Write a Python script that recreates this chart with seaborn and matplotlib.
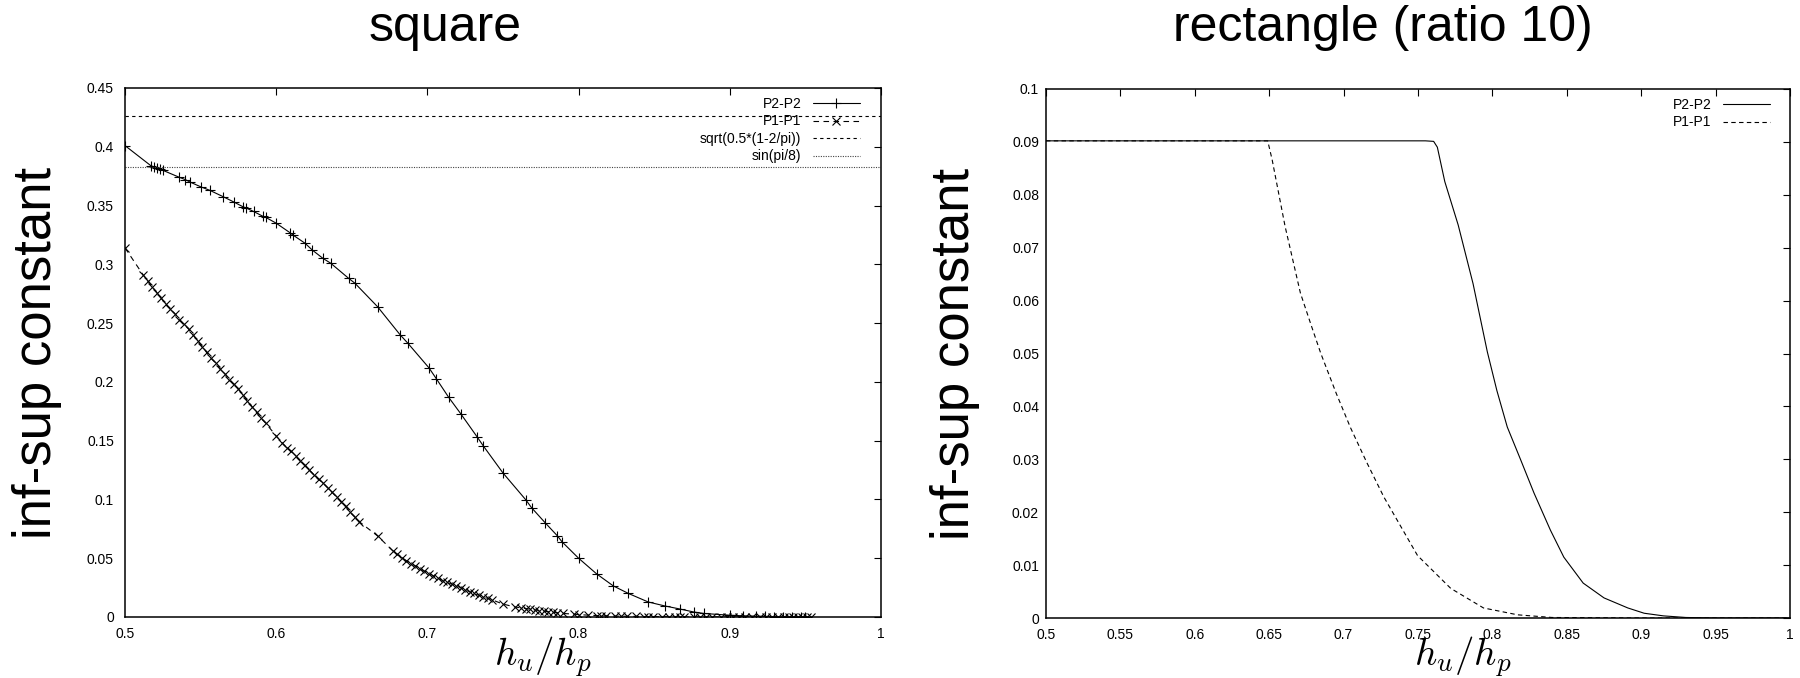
import numpy as np
import pandas as pd
import seaborn as sns
import matplotlib.pyplot as plt

# square: P2-P2 (+ markers, solid)
sq_p2_x = [0.500, 0.517, 0.519, 0.521, 0.523, 0.525, 0.536, 0.540, 0.543, 0.550,
           0.556, 0.565, 0.572, 0.578, 0.580, 0.585, 0.591, 0.593, 0.600, 0.609,
           0.611, 0.619, 0.624, 0.631, 0.636, 0.648, 0.652, 0.667, 0.682, 0.687,
           0.701, 0.706, 0.714, 0.722, 0.733, 0.737, 0.750, 0.765, 0.769, 0.778,
           0.786, 0.789, 0.800, 0.812, 0.823, 0.833, 0.846, 0.857, 0.867, 0.876,
           0.883, 0.900, 0.909, 0.917, 0.923, 0.929, 0.935, 0.941, 0.947, 0.950]
sq_p2_y = [0.401, 0.384, 0.383, 0.382, 0.381, 0.380, 0.374, 0.372, 0.370, 0.366,
           0.363, 0.3575, 0.353, 0.349, 0.348, 0.345, 0.341, 0.340, 0.335, 0.327,
           0.325, 0.318, 0.312, 0.305, 0.301, 0.288, 0.284, 0.264, 0.240, 0.233,
           0.212, 0.2025, 0.187, 0.173, 0.153, 0.1455, 0.1225, 0.0998, 0.0928, 0.080,
           0.069, 0.064, 0.050, 0.0366, 0.0264, 0.020, 0.0128, 0.0094, 0.0068, 0.0043,
           0.003, 0.0015, 0.001, 0.0007, 0.0005, 0.0003, 0.0002, 0.0001, 0.0001, 0.0001]

# square: P1-P1 (x markers, dashed)
sq_p1_x = [0.500,
           0.512, 0.515, 0.518, 0.521, 0.524, 0.527, 0.530, 0.533, 0.536, 0.539,
           0.542, 0.545, 0.548, 0.551, 0.554, 0.557, 0.560, 0.563, 0.566, 0.569,
           0.572, 0.575, 0.578, 0.581, 0.584, 0.587, 0.590, 0.593,
           0.600,
           0.604, 0.607, 0.610, 0.613, 0.616, 0.619, 0.622, 0.625, 0.628, 0.631,
           0.634, 0.637, 0.640, 0.643, 0.646, 0.649, 0.652, 0.655,
           0.667,
           0.677, 0.680, 0.683, 0.686, 0.689, 0.692, 0.695, 0.698, 0.701, 0.704,
           0.707, 0.710, 0.713, 0.716, 0.719, 0.722, 0.725, 0.728, 0.731, 0.734,
           0.737, 0.740, 0.743,
           0.750,
           0.758, 0.762, 0.765, 0.768, 0.771, 0.774, 0.777, 0.780, 0.783, 0.786,
           0.790, 0.797, 0.800,
           0.806, 0.812, 0.815, 0.818, 0.824, 0.828, 0.832, 0.838, 0.843, 0.846,
           0.849, 0.855, 0.860, 0.864, 0.867, 0.870, 0.876, 0.880, 0.884, 0.888,
           0.894, 0.898, 0.902, 0.906, 0.910, 0.915, 0.920, 0.924, 0.928, 0.932,
           0.936, 0.939, 0.942, 0.945, 0.948, 0.951, 0.954]
sq_p1_y = [0.314,
           0.291, 0.286, 0.281, 0.276, 0.271, 0.266, 0.262, 0.258, 0.253, 0.249,
           0.245, 0.240, 0.235, 0.230, 0.225, 0.220, 0.216, 0.211, 0.207, 0.202,
           0.198, 0.194, 0.189, 0.184, 0.179, 0.174, 0.169, 0.165,
           0.154,
           0.148, 0.144, 0.141, 0.137, 0.133, 0.129, 0.125, 0.121, 0.117, 0.114,
           0.110, 0.106, 0.102, 0.098, 0.094, 0.089, 0.085, 0.081,
           0.069,
           0.0565, 0.0535, 0.0505, 0.048, 0.0455, 0.0435, 0.041, 0.039, 0.037, 0.035,
           0.033, 0.031, 0.0295, 0.028, 0.0265, 0.025, 0.023, 0.0215, 0.020, 0.0185,
           0.017, 0.0158, 0.0145,
           0.011,
           0.0085, 0.0078, 0.0072, 0.0066, 0.006, 0.0055, 0.005, 0.0045, 0.004, 0.0036,
           0.003, 0.0024, 0.002,
           0.0016, 0.0012, 0.0011, 0.001, 0.0008, 0.0007, 0.0006, 0.0005, 0.0004, 0.0004,
           0.0003, 0.0003, 0.0002, 0.0002, 0.0002, 0.0001, 0.0001, 0.0001, 0.0001, 0.0001,
           0.0, 0.0, 0.0, 0.0, 0.0, 0.0, 0.0, 0.0, 0.0, 0.0,
           0.0, 0.0, 0.0, 0.0, 0.0, 0.0, 0.0]

sqrt_const = 0.4263   # sqrt(0.5*(1-2/pi))
sin_const = 0.3827    # sin(pi/8)

# rectangle (ratio 10)
re_p2_x = [0.500, 0.600, 0.700, 0.755, 0.7605, 0.763, 0.768, 0.777, 0.787, 0.7966,
           0.803, 0.810, 0.819, 0.828, 0.839, 0.848, 0.861, 0.875, 0.891, 0.902,
           0.915, 0.930, 0.950, 1.000]
re_p2_y = [0.0902, 0.0902, 0.0902, 0.0902, 0.0901, 0.0890, 0.0825, 0.0743, 0.0632, 0.0503,
           0.0430, 0.0361, 0.0299, 0.0236, 0.0166, 0.0115, 0.0066, 0.0038, 0.0019, 0.0009,
           0.0004, 0.0001, 0.0, 0.0]
re_p1_x = [0.500, 0.600, 0.649, 0.652, 0.6607, 0.671, 0.6785, 0.6847, 0.695, 0.7046,
           0.7154, 0.727, 0.7497, 0.772, 0.794, 0.817, 0.840, 0.900, 1.000]
re_p1_y = [0.0902, 0.0902, 0.0902, 0.0866, 0.0740, 0.0614, 0.0551, 0.0500, 0.0425, 0.0360,
           0.0295, 0.0229, 0.0118, 0.0056, 0.0019, 0.0006, 0.0001, 0.0, 0.0]

sq_xticks = [0.5, 0.6, 0.7, 0.8, 0.9, 1.0]
sq_xlabels = ['0.5', '0.6', '0.7', '0.8', '0.9', '1']
sq_yticks = [0, 0.05, 0.1, 0.15, 0.2, 0.25, 0.3, 0.35, 0.4, 0.45]
sq_ylabels = ['0', '0.05', '0.1', '0.15', '0.2', '0.25', '0.3', '0.35', '0.4', '0.45']
re_xticks = [0.5, 0.55, 0.6, 0.65, 0.7, 0.75, 0.8, 0.85, 0.9, 0.95, 1.0]
re_xlabels = ['0.5', '0.55', '0.6', '0.65', '0.7', '0.75', '0.8', '0.85', '0.9', '0.95', '1']
re_yticks = [0, 0.01, 0.02, 0.03, 0.04, 0.05, 0.06, 0.07, 0.08, 0.09, 0.1]
re_ylabels = ['0', '0.01', '0.02', '0.03', '0.04', '0.05', '0.06', '0.07', '0.08', '0.09', '0.1']

sns.set_style('white')
plt.rcParams['font.family'] = ['Liberation Sans', 'DejaVu Sans']
plt.rcParams['mathtext.fontset'] = 'cm'
plt.rcParams['text.color'] = 'black'
plt.rcParams['axes.labelcolor'] = 'black'

fig = plt.figure(figsize=(18, 6.78), dpi=100)
ax1 = fig.add_axes([125 / 1800, 61 / 678, 756 / 1800, 529 / 678])
ax2 = fig.add_axes([1046 / 1800, 60 / 678, 744 / 1800, 529 / 678])

lw = 0.8
sns.lineplot(x=sq_p2_x, y=sq_p2_y, ax=ax1, color='black', lw=lw, marker='+',
             markersize=7, markeredgewidth=0.8, markeredgecolor='black',
             estimator=None, label='P2-P2')
sns.lineplot(x=sq_p1_x, y=sq_p1_y, ax=ax1, color='black', lw=lw, marker='x',
             markersize=5.5, markeredgewidth=0.8, markeredgecolor='black',
             estimator=None, label='P1-P1', linestyle=(0, (5, 4)))
ax1.axhline(sqrt_const, color='black', lw=lw, linestyle=(0, (3, 3)),
            label='sqrt(0.5*(1-2/pi))')
ax1.axhline(sin_const, color='#444444', lw=lw, linestyle=(0, (1, 1.2)),
            label='sin(pi/8)')

sns.lineplot(x=re_p2_x, y=re_p2_y, ax=ax2, color='black', lw=lw,
             estimator=None, label='P2-P2')
sns.lineplot(x=re_p1_x, y=re_p1_y, ax=ax2, color='black', lw=lw,
             estimator=None, label='P1-P1', linestyle=(0, (4, 3)))

for ax, xt, xl, yt, yl, ylim, ypad in [
        (ax1, sq_xticks, sq_xlabels, sq_yticks, sq_ylabels, 0.45, 8),
        (ax2, re_xticks, re_xlabels, re_yticks, re_ylabels, 0.1, 5)]:
    ax.set_xlim(0.5, 1.0)
    ax.set_ylim(0, ylim)
    ax.set_xticks(xt)
    ax.set_xticklabels(xl)
    ax.set_yticks(yt)
    ax.set_yticklabels(yl)
    ax.tick_params(direction='in', length=5, width=0.8, top=True, right=True,
                   labelsize=10, colors='black')
    ax.tick_params(axis='x', pad=7)
    ax.tick_params(axis='y', pad=ypad)
    for s in ax.spines.values():
        s.set_linewidth(1.1)
        s.set_color('black')
    ax.set_ylabel('inf-sup constant', fontsize=38)
    ax.set_xlabel(r'$h_u/h_p$', fontsize=28)

ax1.yaxis.set_label_coords(-0.083, 0.5)
ax2.yaxis.set_label_coords(-0.089, 0.5)
ax1.xaxis.set_label_coords(0.553, -0.032)
ax2.xaxis.set_label_coords(0.5605, -0.030)

leg1 = ax1.legend(loc='upper right', bbox_to_anchor=(0.972, 0.983), frameon=False,
                  markerfirst=False, fontsize=10, handlelength=3.4,
                  handletextpad=0.8, labelspacing=0.25, borderpad=0, borderaxespad=0)
leg2 = ax2.legend(loc='upper right', bbox_to_anchor=(0.973, 0.983), frameon=False,
                  markerfirst=False, fontsize=10, handlelength=3.4,
                  handletextpad=0.8, labelspacing=0.25, borderpad=0, borderaxespad=0)

fig.text(445 / 1800, 1 - 41 / 678, 'square', fontsize=36, ha='center', va='baseline')
fig.text(1383 / 1800, 1 - 41 / 678, 'rectangle (ratio 10)', fontsize=36,
         ha='center', va='baseline')

fig.savefig('out.png', dpi=100)
